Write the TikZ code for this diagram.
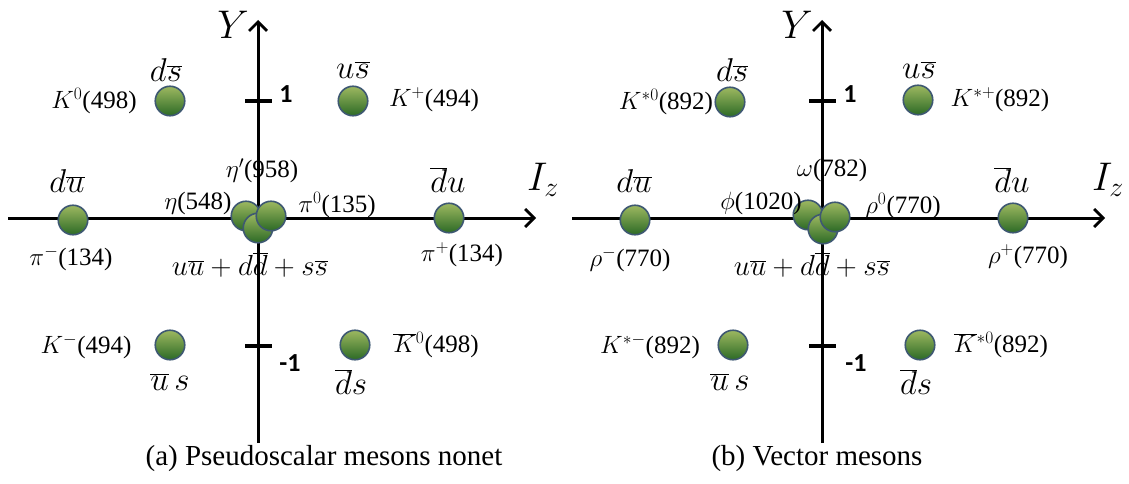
\RequirePackage{fix-cm}
\documentclass[tikz,border=0pt]{standalone}
\usepackage{fontspec}
\setmainfont{Liberation Serif}
\newfontfamily\tickfont{Carlito}
\usetikzlibrary{arrows.meta,shadings}
\definecolor{balltop}{HTML}{9DB860}
\definecolor{ballbot}{HTML}{2C6A26}
\definecolor{balledge}{HTML}{3E5872}
\begin{document}
\begin{tikzpicture}[x=1pt,y=-1pt,
  ball/.style={circle, draw=balledge, line width=1.6pt, minimum size=29.5pt, inner sep=0pt, top color=balltop, bottom color=ballbot},
  axis/.style={line width=3pt, -{Straight Barb[length=9pt,width=18pt,line width=2.8pt]}},
  tickmark/.style={line width=3.2pt},
  mass/.style={font=\fontsize{25}{27}\selectfont, inner sep=0pt},
  quark/.style={font=\fontsize{33}{35}\selectfont, inner sep=0pt},
  combo/.style={font=\fontsize{29}{31}\selectfont, inner sep=0pt},
  axlabel/.style={font=\fontsize{40}{42}\selectfont, inner sep=0pt},
  ticklabel/.style={font=\fontsize{26}{28}\selectfont\tickfont\bfseries, inner sep=0pt},
  caption/.style={font=\fontsize{29}{31}\selectfont, inner sep=0pt}]
\useasboundingbox (0,0) rectangle (1129,484);

% ===== (a) left =====
\coordinate (aYb) at (258,443); \coordinate (aYt) at (258,20);
\coordinate (aXl) at (8,218);   \coordinate (aXr) at (536,218);
\draw[axis] (aYb) -- (aYt);
\draw[axis] (aXl) -- (aXr);
\coordinate (aT1l) at (245,101); \coordinate (aT1r) at (272,101);
\coordinate (aT2l) at (245,346); \coordinate (aT2r) at (272,346);
\draw[tickmark] (aT1l) -- (aT1r);
\draw[tickmark] (aT2l) -- (aT2r);
\node[ticklabel] (a1) at (286,94) {1};
\node[ticklabel] (am1) at (290,363) {-1};
\node[axlabel] (aY) at (233,25) {$Y$};
\node[axlabel] (aI) at (543,180) {$I_{z}$};

\node[ball] (aK0) at (170,101) {};
\node[ball] (aKp) at (353,101) {};
\node[ball] (apim) at (73,220) {};
\node[ball] (apip) at (449,218) {};
\node[ball] (aKm) at (170,345) {};
\node[ball] (aK0b) at (355,345) {};
\node[ball] (aeta) at (246,216) {};
\node[ball] (aetap) at (258,228) {};
\node[ball] (api0) at (271,216) {};

\node[quark] (aq1) at (166,70) {$d\overline{s}$};
\node[quark] (aq2) at (353,70) {$u\overline{s}$};
\node[quark] (aq3) at (67,181) {$d\overline{u}$};
\node[quark] (aq4) at (448,180) {$\overline{d}u$};
\node[quark] (aq5) at (170,382) {$\overline{u}\,s$};
\node[quark] (aq6) at (351,382) {$\overline{d}s$};

\node[mass] (am1l) at (94,101) {$K^{0}$(498)};
\node[mass] (am2l) at (434,100) {$K^{+}$(494)};
\node[mass] (am3l) at (71,259) {$\pi^{-}$(134)};
\node[mass] (am4l) at (462,255) {$\pi^{+}$(134)};
\node[mass] (am5l) at (86,347) {$K^{-}$(494)};
\node[mass] (am6l) at (436,345) {$\overline{K}{}^{0}$(498)};
\node[mass] (am7l) at (262,171) {$\eta'$(958)};
\node[mass] (am8l) at (198,203) {$\eta$(548)};
\node[mass] (am9l) at (337,205) {$\pi^{0}$(135)};
\node[combo] (acomb) at (250,265) {$u\overline{u}+d\overline{d}+s\overline{s}$};
\node[caption] (acap) at (324,459) {(a) Pseudoscalar mesons nonet};

% ===== (b) right =====
\coordinate (bYb) at (822,443); \coordinate (bYt) at (822,20);
\coordinate (bXl) at (572,218); \coordinate (bXr) at (1105,218);
\draw[axis] (bYb) -- (bYt);
\draw[axis] (bXl) -- (bXr);
\coordinate (bT1l) at (809,101); \coordinate (bT1r) at (836,101);
\coordinate (bT2l) at (809,346); \coordinate (bT2r) at (836,346);
\draw[tickmark] (bT1l) -- (bT1r);
\draw[tickmark] (bT2l) -- (bT2r);
\node[ticklabel] (b1) at (850,94) {1};
\node[ticklabel] (bm1) at (856,363) {-1};
\node[axlabel] (bY) at (797,25) {$Y$};
\node[axlabel] (bI) at (1108,180) {$I_{z}$};

\node[ball] (bK0) at (730,102) {};
\node[ball] (bKp) at (918,100) {};
\node[ball] (brhom) at (635,220) {};
\node[ball] (brhop) at (1013,218) {};
\node[ball] (bKm) at (733,345) {};
\node[ball] (bK0b) at (920,345) {};
\node[ball] (bphi) at (808,215) {};
\node[ball] (bomega) at (823,229) {};
\node[ball] (brho0) at (835,217) {};

\node[quark] (bq1) at (732,70) {$d\overline{s}$};
\node[quark] (bq2) at (919,70) {$u\overline{s}$};
\node[quark] (bq3) at (634,181) {$d\overline{u}$};
\node[quark] (bq4) at (1012,180) {$\overline{d}u$};
\node[quark] (bq5) at (730,382) {$\overline{u}\,s$};
\node[quark] (bq6) at (916,382) {$\overline{d}s$};

\node[mass] (bm1l) at (666,102) {$K^{*0}$(892)};
\node[mass] (bm2l) at (1000,100) {$K^{*+}$(892)};
\node[mass] (bm3l) at (630,260) {$\rho^{-}$(770)};
\node[mass] (bm4l) at (1028,257) {$\rho^{+}$(770)};
\node[mass] (bm5l) at (650,347) {$K^{*-}$(892)};
\node[mass] (bm6l) at (1001,345) {$\overline{K}{}^{*0}$(892)};
\node[mass] (bm7l) at (832,170) {$\omega$(782)};
\node[mass] (bm8l) at (761,203) {$\phi$(1020)};
\node[mass] (bm9l) at (903,206) {$\rho^{0}$(770)};
\node[combo] (bcomb) at (812,265) {$u\overline{u}+d\overline{d}+s\overline{s}$};
\node[caption] (bcap) at (817,459) {(b) Vector mesons};
\end{tikzpicture}
\end{document}
